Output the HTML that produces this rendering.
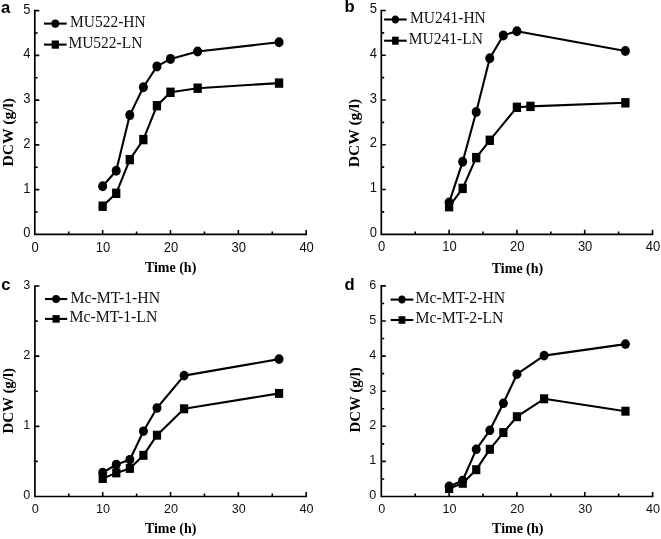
<!DOCTYPE html>
<html><head><meta charset="utf-8"><style>
html,body{margin:0;padding:0;background:#fff;}
body{width:661px;height:539px;overflow:hidden;}
svg{display:block;will-change:transform;}
.tk{font-family:"Liberation Sans",sans-serif;font-size:12.6px;fill:#111;}
.lg{font-family:"Liberation Serif",serif;font-size:15.5px;fill:#111;}
.pl{font-family:"Liberation Sans",sans-serif;font-size:16.6px;font-weight:bold;fill:#000;}
.ax{font-family:"Liberation Serif",serif;font-size:14px;font-weight:bold;fill:#000;}
.ay{font-family:"Liberation Serif",serif;font-size:15px;font-weight:bold;fill:#000;letter-spacing:0.8px;}
</style></head><body>
<svg width="661" height="539" viewBox="0 0 661 539">
<rect width="661" height="539" fill="#fff"/>
<path d="M34.8 10.65V234.4H306.2" fill="none" stroke="#000" stroke-width="1.7" stroke-linecap="square"/>
<path d="M68.72 234.4v-2.9M102.65 234.4v-4.5M136.57 234.4v-2.9M170.5 234.4v-4.5M204.42 234.4v-2.9M238.35 234.4v-4.5M272.27 234.4v-2.9M306.2 234.4v-4.5M34.8 212.03h2.9M34.8 189.65h4.5M34.8 167.28h2.9M34.8 144.9h4.5M34.8 122.53h2.9M34.8 100.15h4.5M34.8 77.78h2.9M34.8 55.4h4.5M34.8 33.03h2.9M34.8 10.65h4.5" fill="none" stroke="#000" stroke-width="1.6"/>
<text class="tk" style="font-size:13px" transform="translate(30.4 237.3) scale(1 1.1)" text-anchor="end">0</text>
<text class="tk" style="font-size:13px" transform="translate(30.4 192.55) scale(1 1.1)" text-anchor="end">1</text>
<text class="tk" style="font-size:13px" transform="translate(30.4 147.8) scale(1 1.1)" text-anchor="end">2</text>
<text class="tk" style="font-size:13px" transform="translate(30.4 103.05) scale(1 1.1)" text-anchor="end">3</text>
<text class="tk" style="font-size:13px" transform="translate(30.4 58.3) scale(1 1.1)" text-anchor="end">4</text>
<text class="tk" style="font-size:13px" transform="translate(30.4 13.55) scale(1 1.1)" text-anchor="end">5</text>
<text class="tk" style="font-size:13px" transform="translate(35.2 251.5) scale(1 1.1)" text-anchor="middle">0</text>
<text class="tk" style="font-size:13px" transform="translate(103.05 251.5) scale(1 1.1)" text-anchor="middle">10</text>
<text class="tk" style="font-size:13px" transform="translate(170.9 251.5) scale(1 1.1)" text-anchor="middle">20</text>
<text class="tk" style="font-size:13px" transform="translate(238.75 251.5) scale(1 1.1)" text-anchor="middle">30</text>
<text class="tk" style="font-size:13px" transform="translate(306.6 251.5) scale(1 1.1)" text-anchor="middle">40</text>
<path d="M102.65 186.2L116.22 170.7L129.79 115.1L143.36 87.2L156.93 66.4L170.5 58.9L197.64 51.5L279.06 42.2" fill="none" stroke="#000" stroke-width="2.1" stroke-linejoin="round"/>
<path d="M102.65 206.2L116.22 193.3L129.79 159.6L143.36 139.6L156.93 105.7L170.5 92.3L197.64 88.2L279.06 83.1" fill="none" stroke="#000" stroke-width="2.1" stroke-linejoin="round"/>
<ellipse cx="102.65" cy="186.2" rx="4.5" ry="5.0"/>
<ellipse cx="116.22" cy="170.7" rx="4.5" ry="5.0"/>
<ellipse cx="129.79" cy="115.1" rx="4.5" ry="5.0"/>
<ellipse cx="143.36" cy="87.2" rx="4.5" ry="5.0"/>
<ellipse cx="156.93" cy="66.4" rx="4.5" ry="5.0"/>
<ellipse cx="170.5" cy="58.9" rx="4.5" ry="5.0"/>
<ellipse cx="197.64" cy="51.5" rx="4.5" ry="5.0"/>
<ellipse cx="279.06" cy="42.2" rx="4.5" ry="5.0"/>
<rect x="98.5" y="201.5" width="8.3" height="9.4"/>
<rect x="112.07" y="188.6" width="8.3" height="9.4"/>
<rect x="125.64" y="154.9" width="8.3" height="9.4"/>
<rect x="139.21" y="134.9" width="8.3" height="9.4"/>
<rect x="152.78" y="101" width="8.3" height="9.4"/>
<rect x="166.35" y="87.6" width="8.3" height="9.4"/>
<rect x="193.49" y="83.5" width="8.3" height="9.4"/>
<rect x="274.91" y="78.4" width="8.3" height="9.4"/>
<path d="M44 23.6H66.6" stroke="#000" stroke-width="2.1"/>
<ellipse cx="55.3" cy="23.6" rx="3.9" ry="4.2"/>
<text class="lg" transform="translate(70 27.4) scale(1 1.1)" style="font-size:15.5px">MU522-HN</text>
<path d="M44 44.6H66.6" stroke="#000" stroke-width="2.1"/>
<rect x="51.65" y="40.5" width="7.3" height="8.2"/>
<text class="lg" transform="translate(68.4 48.3) scale(1 1.1)" style="font-size:15.5px">MU522-LN</text>
<text class="pl" x="1" y="12.6">a</text>
<text class="ax" transform="translate(170.6 271.9) scale(1 1.06)" text-anchor="middle">Time (h)</text>
<text class="ay" style="letter-spacing:0px;font-size:14.3px" transform="translate(12.6 132.2) rotate(-90) scale(1.09 1)" text-anchor="middle">DCW (g/l)</text>
<path d="M381.3 10.5V234.3H652.5" fill="none" stroke="#000" stroke-width="1.7" stroke-linecap="square"/>
<path d="M415.2 234.3v-2.9M449.1 234.3v-4.5M483 234.3v-2.9M516.9 234.3v-4.5M550.8 234.3v-2.9M584.7 234.3v-4.5M618.6 234.3v-2.9M652.5 234.3v-4.5M381.3 211.92h2.9M381.3 189.54h4.5M381.3 167.16h2.9M381.3 144.78h4.5M381.3 122.4h2.9M381.3 100.02h4.5M381.3 77.64h2.9M381.3 55.26h4.5M381.3 32.88h2.9M381.3 10.5h4.5" fill="none" stroke="#000" stroke-width="1.6"/>
<text class="tk" style="font-size:13px" transform="translate(376.9 236.9) scale(1 1.1)" text-anchor="end">0</text>
<text class="tk" style="font-size:13px" transform="translate(376.9 192.14) scale(1 1.1)" text-anchor="end">1</text>
<text class="tk" style="font-size:13px" transform="translate(376.9 147.38) scale(1 1.1)" text-anchor="end">2</text>
<text class="tk" style="font-size:13px" transform="translate(376.9 102.62) scale(1 1.1)" text-anchor="end">3</text>
<text class="tk" style="font-size:13px" transform="translate(376.9 57.86) scale(1 1.1)" text-anchor="end">4</text>
<text class="tk" style="font-size:13px" transform="translate(376.9 13.1) scale(1 1.1)" text-anchor="end">5</text>
<text class="tk" style="font-size:13px" transform="translate(381.7 251.4) scale(1 1.1)" text-anchor="middle">0</text>
<text class="tk" style="font-size:13px" transform="translate(449.5 251.4) scale(1 1.1)" text-anchor="middle">10</text>
<text class="tk" style="font-size:13px" transform="translate(517.3 251.4) scale(1 1.1)" text-anchor="middle">20</text>
<text class="tk" style="font-size:13px" transform="translate(585.1 251.4) scale(1 1.1)" text-anchor="middle">30</text>
<text class="tk" style="font-size:13px" transform="translate(652.9 251.4) scale(1 1.1)" text-anchor="middle">40</text>
<path d="M449.1 202.6L462.66 161.8L476.22 112L489.78 58.3L503.34 35.4L516.9 31.2L625.38 51" fill="none" stroke="#000" stroke-width="2.1" stroke-linejoin="round"/>
<path d="M449.1 206.7L462.66 188.4L476.22 157.6L489.78 140.3L516.9 107.3L530.46 106.4L625.38 102.8" fill="none" stroke="#000" stroke-width="2.1" stroke-linejoin="round"/>
<ellipse cx="449.1" cy="202.6" rx="4.5" ry="5.0"/>
<ellipse cx="462.66" cy="161.8" rx="4.5" ry="5.0"/>
<ellipse cx="476.22" cy="112" rx="4.5" ry="5.0"/>
<ellipse cx="489.78" cy="58.3" rx="4.5" ry="5.0"/>
<ellipse cx="503.34" cy="35.4" rx="4.5" ry="5.0"/>
<ellipse cx="516.9" cy="31.2" rx="4.5" ry="5.0"/>
<ellipse cx="625.38" cy="51" rx="4.5" ry="5.0"/>
<rect x="444.95" y="202" width="8.3" height="9.4"/>
<rect x="458.51" y="183.7" width="8.3" height="9.4"/>
<rect x="472.07" y="152.9" width="8.3" height="9.4"/>
<rect x="485.63" y="135.6" width="8.3" height="9.4"/>
<rect x="512.75" y="102.6" width="8.3" height="9.4"/>
<rect x="526.31" y="101.7" width="8.3" height="9.4"/>
<rect x="621.23" y="98.1" width="8.3" height="9.4"/>
<path d="M384.1 19.5H406.7" stroke="#000" stroke-width="2.1"/>
<ellipse cx="395.4" cy="19.5" rx="3.5" ry="4.1"/>
<text class="lg" transform="translate(410 22.8) scale(1 1.06)" style="font-size:15.5px">MU241-HN</text>
<path d="M384.1 40.7H406.7" stroke="#000" stroke-width="2.1"/>
<rect x="392.1" y="36.7" width="6.6" height="8.0"/>
<text class="lg" transform="translate(408.8 44.1) scale(1 1.06)" style="font-size:15.5px">MU241-LN</text>
<text class="pl" x="344.5" y="12.4">b</text>
<text class="ax" transform="translate(517.5 273) scale(1 1.06)" text-anchor="middle">Time (h)</text>
<text class="ay" style="letter-spacing:0px;font-size:14.3px" transform="translate(359.2 133) rotate(-90) scale(1.09 1)" text-anchor="middle">DCW (g/l)</text>
<path d="M34.9 286V496.5H306.2" fill="none" stroke="#000" stroke-width="1.7" stroke-linecap="square"/>
<path d="M68.81 496.5v-2.9M102.72 496.5v-4.5M136.64 496.5v-2.9M170.55 496.5v-4.5M204.46 496.5v-2.9M238.38 496.5v-4.5M272.29 496.5v-2.9M306.2 496.5v-4.5M34.9 461.42h2.9M34.9 426.33h4.5M34.9 391.25h2.9M34.9 356.17h4.5M34.9 321.08h2.9M34.9 286h4.5" fill="none" stroke="#000" stroke-width="1.6"/>
<text class="tk" style="font-size:12.6px" transform="translate(30.3 499.2) scale(1 1.04)" text-anchor="end">0</text>
<text class="tk" style="font-size:12.6px" transform="translate(30.3 429.03) scale(1 1.04)" text-anchor="end">1</text>
<text class="tk" style="font-size:12.6px" transform="translate(30.3 358.87) scale(1 1.04)" text-anchor="end">2</text>
<text class="tk" style="font-size:12.6px" transform="translate(30.3 288.7) scale(1 1.04)" text-anchor="end">3</text>
<text class="tk" style="font-size:12.6px" transform="translate(35.3 513) scale(1 1.04)" text-anchor="middle">0</text>
<text class="tk" style="font-size:12.6px" transform="translate(103.12 513) scale(1 1.04)" text-anchor="middle">10</text>
<text class="tk" style="font-size:12.6px" transform="translate(170.95 513) scale(1 1.04)" text-anchor="middle">20</text>
<text class="tk" style="font-size:12.6px" transform="translate(238.78 513) scale(1 1.04)" text-anchor="middle">30</text>
<text class="tk" style="font-size:12.6px" transform="translate(306.6 513) scale(1 1.04)" text-anchor="middle">40</text>
<path d="M102.72 472.6L116.29 464.5L129.86 459.7L143.42 431.2L156.99 408L184.12 375.6L279.07 359.1" fill="none" stroke="#000" stroke-width="2.1" stroke-linejoin="round"/>
<path d="M102.72 478.5L116.29 472.9L129.86 468.4L143.42 455.3L156.99 435.2L184.12 408.8L279.07 393.4" fill="none" stroke="#000" stroke-width="2.1" stroke-linejoin="round"/>
<ellipse cx="102.72" cy="472.6" rx="4.5" ry="4.8"/>
<ellipse cx="116.29" cy="464.5" rx="4.5" ry="4.8"/>
<ellipse cx="129.86" cy="459.7" rx="4.5" ry="4.8"/>
<ellipse cx="143.42" cy="431.2" rx="4.5" ry="4.8"/>
<ellipse cx="156.99" cy="408" rx="4.5" ry="4.8"/>
<ellipse cx="184.12" cy="375.6" rx="4.5" ry="4.8"/>
<ellipse cx="279.07" cy="359.1" rx="4.5" ry="4.8"/>
<rect x="98.62" y="474" width="8.2" height="9.0"/>
<rect x="112.19" y="468.4" width="8.2" height="9.0"/>
<rect x="125.76" y="463.9" width="8.2" height="9.0"/>
<rect x="139.32" y="450.8" width="8.2" height="9.0"/>
<rect x="152.89" y="430.7" width="8.2" height="9.0"/>
<rect x="180.02" y="404.3" width="8.2" height="9.0"/>
<rect x="274.97" y="388.9" width="8.2" height="9.0"/>
<path d="M45 299H67.2" stroke="#000" stroke-width="2.1"/>
<ellipse cx="56.1" cy="299" rx="3.9" ry="3.9"/>
<text class="lg" transform="translate(70.4 302.6) scale(1 1.05)" style="font-size:15.8px">Mc-MT-1-HN</text>
<path d="M45 318.9H67.2" stroke="#000" stroke-width="2.1"/>
<rect x="52.5" y="315.1" width="7.2" height="7.6"/>
<text class="lg" transform="translate(69.4 322.3) scale(1 1.05)" style="font-size:15.8px">Mc-MT-1-LN</text>
<text class="pl" x="1.2" y="290.2">c</text>
<text class="ax" transform="translate(170.6 533.3) scale(1 1.05)" text-anchor="middle">Time (h)</text>
<text class="ay" style="letter-spacing:0px;font-size:14.3px" transform="translate(12.7 400.7) rotate(-90) scale(1.04 1)" text-anchor="middle">DCW (g/l)</text>
<path d="M381.3 285.9V496.5H652.6" fill="none" stroke="#000" stroke-width="1.7" stroke-linecap="square"/>
<path d="M415.21 496.5v-2.9M449.12 496.5v-4.5M483.04 496.5v-2.9M516.95 496.5v-4.5M550.86 496.5v-2.9M584.78 496.5v-4.5M618.69 496.5v-2.9M652.6 496.5v-4.5M381.3 478.95h2.9M381.3 461.4h4.5M381.3 443.85h2.9M381.3 426.3h4.5M381.3 408.75h2.9M381.3 391.2h4.5M381.3 373.65h2.9M381.3 356.1h4.5M381.3 338.55h2.9M381.3 321h4.5M381.3 303.45h2.9M381.3 285.9h4.5" fill="none" stroke="#000" stroke-width="1.6"/>
<text class="tk" style="font-size:12.6px" transform="translate(376.3 499.1) scale(1 1.04)" text-anchor="end">0</text>
<text class="tk" style="font-size:12.6px" transform="translate(376.3 464) scale(1 1.04)" text-anchor="end">1</text>
<text class="tk" style="font-size:12.6px" transform="translate(376.3 428.9) scale(1 1.04)" text-anchor="end">2</text>
<text class="tk" style="font-size:12.6px" transform="translate(376.3 393.8) scale(1 1.04)" text-anchor="end">3</text>
<text class="tk" style="font-size:12.6px" transform="translate(376.3 358.7) scale(1 1.04)" text-anchor="end">4</text>
<text class="tk" style="font-size:12.6px" transform="translate(376.3 323.6) scale(1 1.04)" text-anchor="end">5</text>
<text class="tk" style="font-size:12.6px" transform="translate(376.3 288.5) scale(1 1.04)" text-anchor="end">6</text>
<text class="tk" style="font-size:12.6px" transform="translate(381.7 513) scale(1 1.04)" text-anchor="middle">0</text>
<text class="tk" style="font-size:12.6px" transform="translate(449.52 513) scale(1 1.04)" text-anchor="middle">10</text>
<text class="tk" style="font-size:12.6px" transform="translate(517.35 513) scale(1 1.04)" text-anchor="middle">20</text>
<text class="tk" style="font-size:12.6px" transform="translate(585.18 513) scale(1 1.04)" text-anchor="middle">30</text>
<text class="tk" style="font-size:12.6px" transform="translate(653 513) scale(1 1.04)" text-anchor="middle">40</text>
<path d="M449.12 486.4L462.69 480.5L476.25 449.3L489.82 430.3L503.38 403.3L516.95 374.2L544.08 355.6L625.47 344.1" fill="none" stroke="#000" stroke-width="2.1" stroke-linejoin="round"/>
<path d="M449.12 488.5L462.69 483.3L476.25 469.7L489.82 449.3L503.38 432.6L516.95 416.7L544.08 398.8L625.47 411.2" fill="none" stroke="#000" stroke-width="2.1" stroke-linejoin="round"/>
<ellipse cx="449.12" cy="486.4" rx="4.5" ry="4.8"/>
<ellipse cx="462.69" cy="480.5" rx="4.5" ry="4.8"/>
<ellipse cx="476.25" cy="449.3" rx="4.5" ry="4.8"/>
<ellipse cx="489.82" cy="430.3" rx="4.5" ry="4.8"/>
<ellipse cx="503.38" cy="403.3" rx="4.5" ry="4.8"/>
<ellipse cx="516.95" cy="374.2" rx="4.5" ry="4.8"/>
<ellipse cx="544.08" cy="355.6" rx="4.5" ry="4.8"/>
<ellipse cx="625.47" cy="344.1" rx="4.5" ry="4.8"/>
<rect x="445.02" y="484" width="8.2" height="9.0"/>
<rect x="458.59" y="478.8" width="8.2" height="9.0"/>
<rect x="472.15" y="465.2" width="8.2" height="9.0"/>
<rect x="485.72" y="444.8" width="8.2" height="9.0"/>
<rect x="499.28" y="428.1" width="8.2" height="9.0"/>
<rect x="512.85" y="412.2" width="8.2" height="9.0"/>
<rect x="539.98" y="394.3" width="8.2" height="9.0"/>
<rect x="621.37" y="406.7" width="8.2" height="9.0"/>
<path d="M390.6 299.6H413.3" stroke="#000" stroke-width="2.1"/>
<ellipse cx="401.95" cy="299.6" rx="3.6" ry="4.0"/>
<text class="lg" transform="translate(415.5 303.2) scale(1 1.05)" style="font-size:15.8px">Mc-MT-2-HN</text>
<path d="M390.6 320H413.3" stroke="#000" stroke-width="2.1"/>
<rect x="398.5" y="316.25" width="6.9" height="7.5"/>
<text class="lg" transform="translate(415.5 323.3) scale(1 1.05)" style="font-size:15.8px">Mc-MT-2-LN</text>
<text class="pl" x="344.6" y="290.2">d</text>
<text class="ax" transform="translate(517.8 533) scale(1 1.05)" text-anchor="middle">Time (h)</text>
<text class="ay" style="letter-spacing:0px;font-size:14.3px" transform="translate(359.6 399.9) rotate(-90) scale(1.04 1)" text-anchor="middle">DCW (g/l)</text>
</svg>
</body></html>
